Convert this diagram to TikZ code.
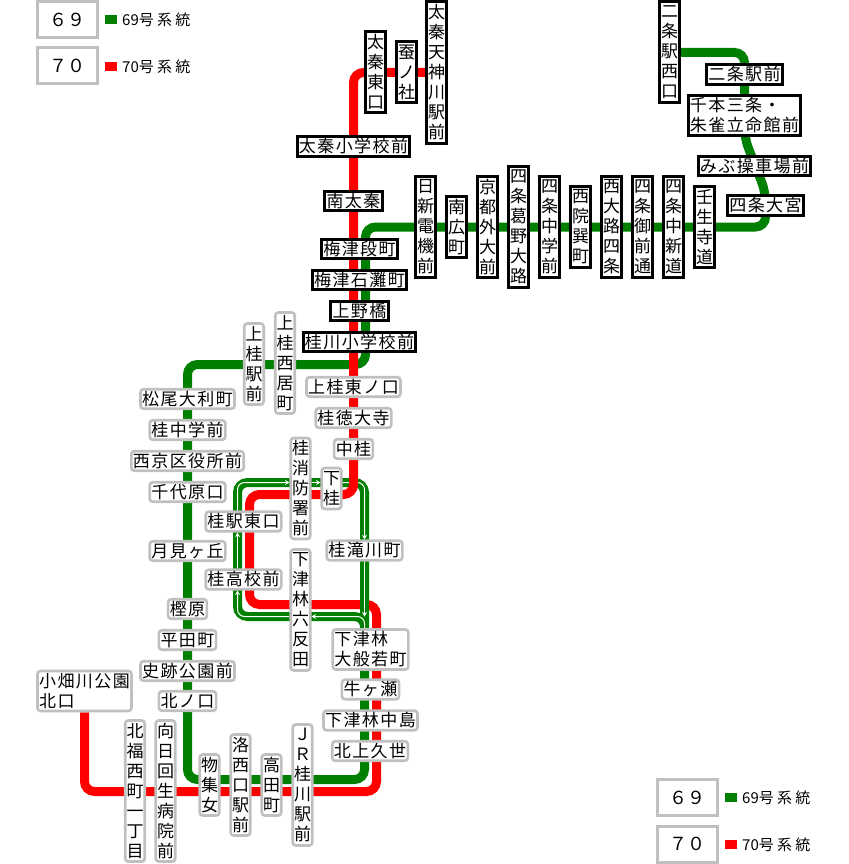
\documentclass[tikz,border=0pt]{standalone}
\usepackage{fontspec}
\setmainfont{Noto Sans CJK JP}
\newfontfamily\hstopfamily[LetterSpace=8.5]{Noto Sans CJK JP}
\newfontfamily\keyfamily[LetterSpace=22]{Noto Sans CJK JP}
\usetikzlibrary{arrows.meta,backgrounds}
\definecolor{routegreen}{RGB}{0,128,0}
\definecolor{routered}{RGB}{255,0,0}
\definecolor{stopgray}{RGB}{192,192,192}
\tikzset{
    stopbox/.style={fill=white, inner sep=0pt},
    hstop/.style={stopbox, font=\fontsize{17}{20}\hstopfamily, minimum width={18.4*#1+2}, minimum height=19.5},
    vstop/.style={stopbox, align=center, font=\fontsize{17}{20}\selectfont, minimum width=19.5, minimum height={20*#1+1}},
    blackstop/.style={draw=black, line width=3pt},
    graystop/.style={draw=stopgray, line width=2.6pt, rounded corners=3pt},
    twoline/.style={align=left, minimum height=40},
    keybox/.style={draw=stopgray, line width=3pt, inner sep=0pt, minimum width=60, minimum height=36, font=\fontsize{18}{18}\selectfont},
    keysquare/.style={inner sep=0pt, minimum width=12, minimum height=9},
    keytext/.style={anchor=west, inner sep=0pt, font=\fontsize{15}{15}\selectfont},
    greenline/.style={draw=routegreen, line width=9pt, rounded corners=10pt},
    redline/.style={draw=routered, line width=9pt, rounded corners=10pt},
    whitearrow/.style={draw=white, line width=1pt, rounded corners=7pt, -{Stealth[length=4.5pt,width=5pt]}}
}
\begin{document}
\begin{tikzpicture}[x=1pt, y=-1pt]
    \useasboundingbox (0,0) rectangle (848,864);

    % Keys, top left
    \node[keybox] (keyGreenA) at (67.5,19.5) {６９};
    \node[keybox] (keyRedA) at (67.5,66) {７０};
    \node[keysquare, fill=routegreen] (squareGreenA) at (111,19.5) {};
    \node[keysquare, fill=routered] (squareRedA) at (111,66.5) {};
    \node[keytext] (textGreenA) at (122,20) {69{\keyfamily 号系統}};
    \node[keytext] (textRedA) at (122,66.5) {70{\keyfamily 号系統}};

    % Keys, bottom right
    \node[keybox] (keyGreenB) at (687.5,797.5) {６９};
    \node[keybox] (keyRedB) at (687.5,844) {７０};
    \node[keysquare, fill=routegreen] (squareGreenB) at (731,797.5) {};
    \node[keysquare, fill=routered] (squareRedB) at (731,844.5) {};
    \node[keytext] (textGreenB) at (742,798) {69{\keyfamily 号系統}};
    \node[keytext] (textRedB) at (742,844.5) {70{\keyfamily 号系統}};

    % Common part, top
    \node[vstop=4, blackstop] (uzumasaEast) at (375.5,72) {太\\秦\\東\\口};
    \node[vstop=3, blackstop] (kaikonoyashiro) at (406.5,72) {蚕\\ノ\\社};
    \node[vstop=7, blackstop] (tenjingawa) at (436.5,72.5) {太\\秦\\天\\神\\川\\駅\\前};
    \node[hstop=6, blackstop] (uzumasaSchool) at (353.5,146.5) {太秦小学校前};
    \node[hstop=3, blackstop] (minamiUzumasa) at (353.5,201) {南太秦};
    \node[hstop=4, blackstop] (umezuDancho) at (359.5,249) {梅津段町};
    \node[hstop=5, blackstop] (umezuIshinada) at (359.5,280) {梅津石灘町};
    \node[hstop=3, blackstop] (uenobashi) at (359.5,311) {上野橋};
    \node[hstop=6, blackstop] (katsuragawaSchool) at (359.5,342) {桂川小学校前};

    % Shijo row
    \node[vstop=5, blackstop] (nisshin) at (425.5,227) {日\\新\\電\\機\\前};
    \node[vstop=3, blackstop] (minamihiro) at (456.5,227) {南\\広\\町};
    \node[vstop=5, blackstop] (gaidai) at (487.5,227) {京\\都\\外\\大\\前};
    \node[vstop=6, blackstop] (kadono) at (518.5,227) {四\\条\\葛\\野\\大\\路};
    \node[vstop=5, blackstop] (shijoSchool) at (549.5,227) {四\\条\\中\\学\\前};
    \node[vstop=4, blackstop] (tatsumi) at (580.5,227) {西\\院\\巽\\町};
    \node[vstop=5, blackstop] (nishioji) at (611.5,227) {西\\大\\路\\四\\条};
    \node[vstop=5, blackstop] (onmae) at (642.5,227) {四\\条\\御\\前\\通};
    \node[vstop=5, blackstop] (shinmichi) at (673.5,227) {四\\条\\中\\新\\道};
    \node[vstop=4, blackstop] (mibudera) at (704.5,227) {壬\\生\\寺\\道};

    % Nijo branch
    \node[vstop=5, blackstop] (nijoWest) at (669.5,52.5) {二\\条\\駅\\西\\口};
    \node[hstop=4, blackstop] (nijo) at (744.5,74.5) {二条駅前};
    \node[hstop=6, blackstop, twoline] (senbon) at (744.5,115.5) {千本三条・\\朱雀立命館前};
    \node[hstop=6, blackstop] (mibu) at (754.5,166) {みぶ操車場前};
    \node[hstop=4, blackstop] (omiya) at (765.5,205.5) {四条大宮};

    % Green branch, west side
    \node[vstop=4, graystop] (kamikatsura) at (254,364) {上\\桂\\駅\\前};
    \node[vstop=5, graystop] (nishiimachi) at (285,363) {上\\桂\\西\\居\\町};
    \node[hstop=5, graystop] (matsuo) at (187.5,399) {松尾大利町};
    \node[hstop=4, graystop] (katsuraSchool) at (187.5,430) {桂中学前};
    \node[hstop=6, graystop] (nishikyo) at (187.5,461) {西京区役所前};
    \node[hstop=4, graystop] (chiyohara) at (187.5,492) {千代原口};
    \node[hstop=4, graystop] (tsukimi) at (187.5,551) {月見ヶ丘};
    \node[hstop=2, graystop] (kashihara) at (187.5,609) {樫原};
    \node[hstop=3, graystop] (hirata) at (187.5,640) {平田町};
    \node[hstop=5, graystop] (shiseki) at (187.5,671) {史跡公園前};
    \node[hstop=3, graystop] (kitanokuchi) at (187.5,701) {北ノ口};

    % Red branch down to Katsura
    \node[hstop=5, graystop] (higashinokuchi) at (353.5,387) {上桂東ノ口};
    \node[hstop=4, graystop] (tokudaiji) at (353.5,418) {桂徳大寺};
    \node[hstop=2, graystop] (nakakatsura) at (353.5,449) {中桂};

    % Loop around Katsura station
    \node[vstop=5, graystop] (shobo) at (300.5,488.5) {桂\\消\\防\\署\\前};
    \node[vstop=2, graystop] (shimokatsura) at (331.5,488.5) {下\\桂};
    \node[hstop=4, graystop] (ekihigashi) at (243.5,521.5) {桂駅東口};
    \node[hstop=4, graystop] (takigawa) at (364.5,550.5) {桂滝川町};
    \node[hstop=4, graystop] (kokomae) at (243.5,579.5) {桂高校前};
    \node[vstop=6, graystop] (rokutanda) at (300.5,610) {下\\津\\林\\六\\反\\田};

    % Common part, south
    \node[hstop=4, graystop, twoline] (hannya) at (370.5,649.5) {下津林\\大般若町};
    \node[hstop=3, graystop] (ushigase) at (370.5,689.5) {牛ヶ瀬};
    \node[hstop=5, graystop] (nakajima) at (370.5,720.5) {下津林中島};
    \node[hstop=4, graystop] (kitakuze) at (370,751) {北上久世};

    % Bottom row
    \node[hstop=5, graystop, twoline] (ohatagawa) at (84.5,691) {小畑川公園\\北口};
    \node[vstop=7, graystop] (fukunishi) at (135,791) {北\\福\\西\\町\\一\\丁\\目};
    \node[vstop=7, graystop] (kaisei) at (165.5,791) {向\\日\\回\\生\\病\\院\\前};
    \node[vstop=3, graystop] (mozume) at (209.5,785) {物\\集\\女};
    \node[vstop=5, graystop] (rakusai) at (240.5,785) {洛\\西\\口\\駅\\前};
    \node[vstop=3, graystop] (takada) at (271.5,785) {高\\田\\町};
    \node[vstop=6, graystop] (jrkatsuragawa) at (302.5,785) {Ｊ\\Ｒ\\桂\\川\\駅\\前};

    % Bends
    \coordinate (loopNE) at (364.5,482.5);
    \coordinate (loopNW) at (237.5,482.5);
    \coordinate (loopSW) at (237.5,616.5);
    \coordinate (loopSE) at (364.5,616.5);
    \coordinate (loopOut) at (364.5,628);
    \coordinate (redCross) at (353.5,488);

    \begin{scope}[on background layer]
        % Route 69
        \draw[greenline] (nijoWest) -- (744.5,52.5) -- (744.5,138) -- (765.5,192)
            -- (765.5,227) -- (365.5,227) -- (365.5,364.5) -- (187.5,364.5)
            -- (187.5,779.5) -- (364.5,779.5) -- (loopOut);
        \draw[greenline] (loopOut) -- (loopNE) -- (loopNW) -- (loopSW) -- (loopSE) -- (loopOut);

        % Route 70
        \draw[redline] (tenjingawa) -- (353.5,72.5) -- (353.5,494.5) -- (249.5,494.5)
            -- (249.5,604.5) -- (376.5,604.5) -- (376.5,791.5) -- (84.5,791.5) -- (ohatagawa);
        \draw[greenline] (takigawa.south) -- (loopOut);

        % One way arrows
        \draw[whitearrow] (loopOut) -- (loopSE) -- (rokutanda.east |- loopSE);
        \draw[whitearrow] (rokutanda.west |- loopSW) -- (loopSW) -- (kokomae.south -| loopSW);
        \draw[whitearrow] (kokomae.north -| loopSW) -- (ekihigashi.south -| loopSW);
        \draw[whitearrow] (ekihigashi.north -| loopSW) -- (loopNW) -- (shobo.west |- loopNW);
        \draw[whitearrow] (shobo.east |- loopNW) -- (shimokatsura.west |- loopNW);
        \draw[whitearrow] (shimokatsura.east |- loopNW) -- (loopNE) -- (takigawa.north -| loopNE);
        \draw[whitearrow] (takigawa.south -| loopNE) -- (loopSE);
        \draw[redline] (nakakatsura.south) -- (redCross);
    \end{scope}
\end{tikzpicture}
\end{document}
